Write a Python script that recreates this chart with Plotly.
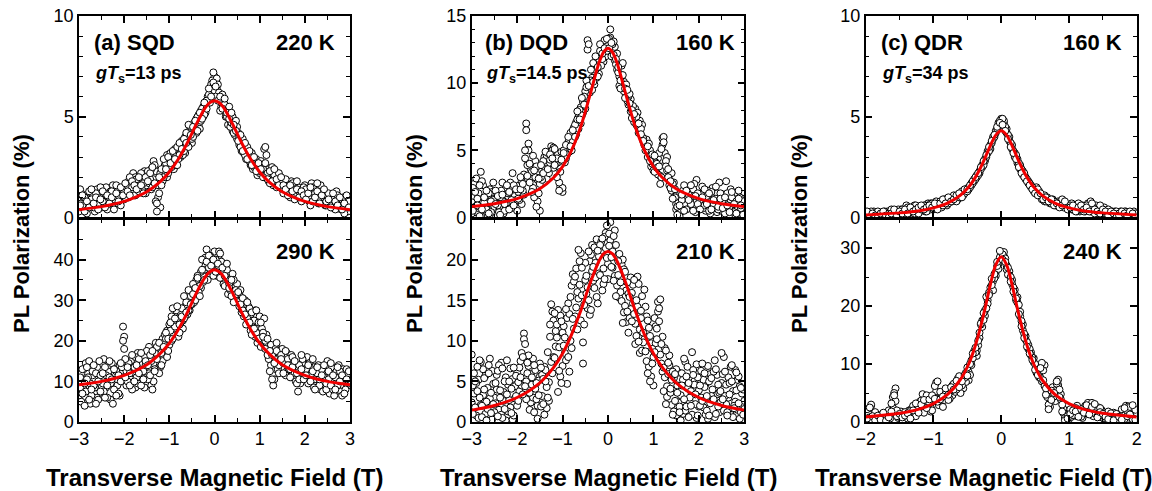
import plotly.graph_objects as go

# ---------------- data ----------------
FIELD_3T = [-3.00, -2.95, -2.90, -2.85, -2.80, -2.75, -2.70, -2.65, -2.60, -2.55, -2.50,
            -2.45, -2.40, -2.35, -2.30, -2.25, -2.20, -2.15, -2.10, -2.05, -2.00,
            -1.95, -1.90, -1.85, -1.80, -1.75, -1.70, -1.65, -1.60, -1.55, -1.50,
            -1.45, -1.40, -1.35, -1.30, -1.25, -1.20, -1.15, -1.10, -1.05, -1.00,
            -0.95, -0.90, -0.85, -0.80, -0.75, -0.70, -0.65, -0.60, -0.55, -0.50,
            -0.45, -0.40, -0.35, -0.30, -0.25, -0.20, -0.15, -0.10, -0.05, 0.00,
            0.05, 0.10, 0.15, 0.20, 0.25, 0.30, 0.35, 0.40, 0.45, 0.50,
            0.55, 0.60, 0.65, 0.70, 0.75, 0.80, 0.85, 0.90, 0.95, 1.00,
            1.05, 1.10, 1.15, 1.20, 1.25, 1.30, 1.35, 1.40, 1.45, 1.50,
            1.55, 1.60, 1.65, 1.70, 1.75, 1.80, 1.85, 1.90, 1.95, 2.00,
            2.05, 2.10, 2.15, 2.20, 2.25, 2.30, 2.35, 2.40, 2.45, 2.50,
            2.55, 2.60, 2.65, 2.70, 2.75, 2.80, 2.85, 2.90, 2.95, 3.00]
FIELD_3T_MID = [-2.975, -2.925, -2.875, -2.825, -2.775, -2.725, -2.675, -2.625, -2.575, -2.525,
                -2.475, -2.425, -2.375, -2.325, -2.275, -2.225, -2.175, -2.125, -2.075, -2.025,
                -1.975, -1.925, -1.875, -1.825, -1.775, -1.725, -1.675, -1.625, -1.575, -1.525,
                -1.475, -1.425, -1.375, -1.325, -1.275, -1.225, -1.175, -1.125, -1.075, -1.025,
                -0.975, -0.925, -0.875, -0.825, -0.775, -0.725, -0.675, -0.625, -0.575, -0.525,
                -0.475, -0.425, -0.375, -0.325, -0.275, -0.225, -0.175, -0.125, -0.075, -0.025,
                0.025, 0.075, 0.125, 0.175, 0.225, 0.275, 0.325, 0.375, 0.425, 0.475,
                0.525, 0.575, 0.625, 0.675, 0.725, 0.775, 0.825, 0.875, 0.925, 0.975,
                1.025, 1.075, 1.125, 1.175, 1.225, 1.275, 1.325, 1.375, 1.425, 1.475,
                1.525, 1.575, 1.625, 1.675, 1.725, 1.775, 1.825, 1.875, 1.925, 1.975,
                2.025, 2.075, 2.125, 2.175, 2.225, 2.275, 2.325, 2.375, 2.425, 2.475,
                2.525, 2.575, 2.625, 2.675, 2.725, 2.775, 2.825, 2.875, 2.925, 2.975]

FIELD_2T = [-2.00,
            -1.96, -1.92, -1.88, -1.84, -1.80, -1.76, -1.72, -1.68, -1.64, -1.60,
            -1.56, -1.52, -1.48, -1.44, -1.40, -1.36, -1.32, -1.28, -1.24, -1.20,
            -1.16, -1.12, -1.08, -1.04, -1.00, -0.96, -0.92, -0.88, -0.84, -0.80,
            -0.76, -0.72, -0.68, -0.64, -0.60, -0.56, -0.52, -0.48, -0.44, -0.40,
            -0.36, -0.32, -0.28, -0.24, -0.20, -0.16, -0.12, -0.08, -0.04, 0.00,
            0.04, 0.08, 0.12, 0.16, 0.20, 0.24, 0.28, 0.32, 0.36, 0.40,
            0.44, 0.48, 0.52, 0.56, 0.60, 0.64, 0.68, 0.72, 0.76, 0.80,
            0.84, 0.88, 0.92, 0.96, 1.00, 1.04, 1.08, 1.12, 1.16, 1.20,
            1.24, 1.28, 1.32, 1.36, 1.40, 1.44, 1.48, 1.52, 1.56, 1.60,
            1.64, 1.68, 1.72, 1.76, 1.80, 1.84, 1.88, 1.92, 1.96, 2.00]
FIELD_2T_MID = [-1.98, -1.94, -1.90, -1.86, -1.82, -1.78, -1.74, -1.70, -1.66, -1.62,
                -1.58, -1.54, -1.50, -1.46, -1.42, -1.38, -1.34, -1.30, -1.26, -1.22,
                -1.18, -1.14, -1.10, -1.06, -1.02, -0.98, -0.94, -0.90, -0.86, -0.82,
                -0.78, -0.74, -0.70, -0.66, -0.62, -0.58, -0.54, -0.50, -0.46, -0.42,
                -0.38, -0.34, -0.30, -0.26, -0.22, -0.18, -0.14, -0.10, -0.06, -0.02,
                0.02, 0.06, 0.10, 0.14, 0.18, 0.22, 0.26, 0.30, 0.34, 0.38,
                0.42, 0.46, 0.50, 0.54, 0.58, 0.62, 0.66, 0.70, 0.74, 0.78,
                0.82, 0.86, 0.90, 0.94, 0.98, 1.02, 1.06, 1.10, 1.14, 1.18,
                1.22, 1.26, 1.30, 1.34, 1.38, 1.42, 1.46, 1.50, 1.54, 1.58,
                1.62, 1.66, 1.70, 1.74, 1.78, 1.82, 1.86, 1.90, 1.94, 1.98]

# (a) SQD 220 K, four sweeps
sqd220_s1 = [0.9, 1.2, 0.5, 1.1, 0.8, 1.3, 0.6, 1.0, 1.4, 0.7, 1.1,
             0.9, 1.5, 1.2, 0.8, 1.6, 1.1, 0.7, 1.3, 1.0, 1.5,
             1.2, 1.8, 1.4, 2.2, 1.1, 1.6, 1.3, 1.9, 1.5, 1.7,
             2.0, 1.4, 2.8, 2.3, 1.0, 0.5, 2.1, 2.6, 3.1, 2.5,
             2.9, 2.4, 2.7, 3.3, 3.0, 3.6, 3.2, 3.9, 4.1, 3.7,
             4.4, 4.9, 4.6, 5.3, 5.0, 5.6, 5.9, 6.2, 6.5, 7.0,
             6.4, 5.9, 5.5, 5.3, 5.0, 4.6, 4.8, 4.3, 4.4, 3.9,
             3.6, 3.8, 3.2, 3.4, 2.9, 2.6, 3.0, 2.4, 2.1, 2.5,
             2.2, 3.4, 2.0, 1.8, 2.3, 1.6, 2.0, 1.7, 1.5, 1.9,
             1.4, 1.6, 1.2, 1.8, 1.3, 1.1, 1.5, 1.0, 1.4, 1.2,
             0.9, 1.3, 1.7, 1.0, 0.8, 1.2, 1.6, 0.7, 1.1, 0.9,
             0.6, 1.0, 0.8, 1.3, 0.5, 0.9, 0.7, 0.4, 0.8, 0.5]
sqd220_s2 = [0.3, 0.7, 1.0, 0.4, 0.9, 0.6, 1.2, 0.3, 0.8, 1.0, 0.5,
             1.1, 0.6, 0.9, 1.3, 0.7, 1.0, 1.4, 0.8, 1.2, 0.9,
             1.5, 1.0, 1.7, 1.3, 2.0, 1.2, 1.8, 1.4, 2.3, 1.6,
             1.7, 2.4, 1.9, 0.8, 1.6, 2.2, 1.8, 2.3, 2.0, 2.8,
             2.5, 3.1, 2.6, 2.9, 3.4, 3.1, 4.0, 3.6, 4.3, 3.9,
             4.7, 4.2, 5.1, 4.8, 5.5, 5.2, 6.0, 5.7, 6.8, 6.3,
             6.9, 6.2, 5.7, 5.8, 5.2, 5.4, 4.5, 5.0, 4.1, 4.5,
             4.0, 3.3, 3.6, 2.9, 3.2, 2.7, 2.4, 2.8, 2.6, 2.2,
             2.6, 2.1, 3.1, 2.4, 1.9, 2.2, 1.8, 2.1, 1.6, 1.4,
             1.8, 1.3, 1.5, 1.1, 1.6, 1.4, 1.0, 1.3, 0.9, 1.6,
             1.2, 0.8, 1.0, 1.4, 1.1, 0.7, 0.9, 1.2, 0.6, 1.0,
             0.8, 0.5, 1.1, 0.7, 0.9, 0.4, 1.0, 0.6, 0.3, 0.7]
sqd220_s3 = [1.4, 0.6, 1.0, 0.2, 1.3, 0.9, 0.5, 1.2, 0.7, 1.5,
             0.8, 1.2, 0.4, 1.0, 1.3, 0.9, 1.6, 1.1, 0.6, 1.4,
             1.0, 1.6, 2.0, 1.5, 1.1, 1.9, 1.3, 2.2, 1.7, 1.2,
             2.3, 1.9, 1.5, 2.6, 0.3, 1.2, 2.4, 2.0, 2.7, 2.2,
             3.2, 2.8, 3.4, 2.6, 3.1, 3.8, 3.3, 4.2, 3.5, 4.5,
             4.0, 4.5, 5.0, 4.4, 5.4, 5.1, 5.8, 6.1, 6.6, 7.2,
             6.0, 6.6, 5.3, 6.1, 5.6, 5.0, 5.5, 4.7, 4.2, 4.8,
             4.2, 3.5, 3.9, 3.1, 3.5, 2.8, 3.2, 2.5, 2.9, 2.3,
             2.8, 2.4, 3.5, 2.2, 1.7, 2.5, 2.1, 1.5, 2.2, 1.7,
             1.2, 1.9, 1.5, 1.0, 1.7, 1.2, 1.8, 1.3, 0.8, 1.5,
             1.4, 1.0, 0.6, 1.5, 1.2, 1.7, 0.9, 1.3, 1.0, 0.6,
             1.2, 0.7, 0.9, 0.4, 1.1, 0.6, 0.9, 0.2, 0.6, 0.8]
sqd220_s4 = [0.6, 1.1, 0.3, 0.8, 0.5, 1.4, 0.7, 1.0, 0.4, 0.9,
             1.3, 0.5, 1.1, 0.7, 1.0, 0.4, 1.2, 0.8, 1.5, 1.1,
             1.7, 1.3, 1.1, 1.8, 1.6, 1.4, 2.0, 1.6, 1.2, 2.0,
             1.8, 2.2, 2.5, 1.7, 0.7, 2.0, 1.6, 2.9, 2.4, 3.0,
             2.7, 3.3, 2.9, 3.5, 3.7, 3.4, 3.9, 3.7, 4.6, 4.1,
             4.5, 4.8, 4.3, 5.2, 4.9, 5.7, 5.4, 6.4, 6.0, 6.7,
             6.5, 5.8, 6.0, 5.4, 5.9, 5.2, 4.9, 5.2, 4.6, 4.3,
             3.8, 4.1, 3.3, 3.7, 2.9, 3.3, 2.6, 3.0, 2.3, 2.7,
             2.4, 2.0, 2.7, 1.9, 2.3, 1.8, 2.4, 1.9, 1.6, 2.0,
             1.6, 1.4, 1.1, 1.6, 1.3, 0.9, 1.4, 1.0, 1.3, 1.1,
             0.9, 1.2, 1.5, 0.8, 1.0, 1.3, 0.7, 1.1, 1.4, 0.8,
             0.9, 0.5, 1.2, 0.8, 0.6, 1.0, 0.4, 0.7, 1.1, 0.5]

# (a) SQD 290 K
sqd290_s1 = [6.5, 12.0, 8.0, 14.5, 5.0, 9.5, 11.5, 7.0, 13.5, 6.0, 10.5,
             15.5, 8.5, 12.5, 5.5, 10.0, 13.0, 9.0, 14.0, 11.0, 21.0,
             12.5, 9.5, 15.0, 11.5, 8.5, 17.0, 13.0, 10.5, 16.0, 12.0,
             18.5, 9.0, 14.5, 19.5, 16.5, 13.5, 20.5, 17.5, 22.5, 19.0,
             26.0, 21.5, 24.0, 22.0, 27.0, 25.0, 28.5, 26.5, 30.5, 29.0,
             32.0, 31.0, 34.5, 33.0, 36.0, 40.5, 38.0, 36.5, 39.5, 42.0,
             38.5, 40.0, 36.5, 37.0, 34.0, 31.5, 35.5, 33.0, 32.0, 30.0,
             28.5, 30.5, 26.0, 27.5, 25.0, 22.5, 24.5, 21.0, 19.5, 26.0,
             20.5, 18.5, 21.5, 17.0, 14.0, 9.0, 15.5, 18.0, 16.5, 14.5,
             13.0, 17.0, 15.0, 12.0, 11.0, 14.0, 7.5, 12.5, 14.5, 11.5,
             16.0, 12.0, 10.0, 13.5, 9.0, 11.0, 8.0, 12.5, 10.5, 9.5,
             7.0, 13.5, 11.5, 9.5, 14.0, 8.5, 10.5, 12.0, 9.0, 11.0]
sqd290_s2 = [10.0, 5.0, 13.0, 7.5, 11.0, 4.5, 12.5, 8.5, 6.0, 15.0, 9.0,
             7.5, 11.5, 14.0, 9.5, 4.5, 12.0, 10.5, 6.5, 13.5, 18.0,
             9.0, 14.5, 10.5, 13.5, 16.0, 9.5, 11.0, 14.5, 8.5, 17.5,
             12.0, 15.0, 10.0, 17.0, 12.5, 18.0, 15.0, 21.5, 16.0, 24.0,
             20.0, 23.0, 27.5, 21.0, 24.5, 23.0, 26.0, 30.0, 27.5, 32.0,
             29.5, 35.0, 32.0, 37.0, 34.5, 38.5, 35.0, 41.0, 37.0, 39.0,
             36.0, 42.0, 39.5, 34.0, 38.5, 35.0, 32.5, 36.5, 30.5, 34.0,
             31.5, 27.0, 29.0, 24.0, 28.5, 26.5, 23.0, 27.5, 23.5, 21.5,
             23.0, 25.5, 19.5, 15.5, 19.0, 11.5, 18.0, 13.0, 15.0, 18.0,
             16.0, 12.5, 13.0, 16.5, 14.0, 10.0, 13.5, 9.5, 15.5, 13.0,
             10.5, 14.5, 13.0, 8.5, 12.5, 14.0, 10.0, 7.5, 12.0, 15.0,
             12.0, 8.5, 6.5, 12.5, 10.5, 7.5, 13.0, 8.0, 12.0, 10.0]
sqd290_s3 = [8.5, 13.0, 4.0, 10.5, 15.0, 6.5, 9.0, 12.0, 5.5, 11.5,
             9.5, 13.5, 6.0, 11.0, 14.5, 8.0, 12.5, 7.0, 10.0, 23.5,
             15.5, 10.0, 12.0, 8.0, 13.5, 11.0, 15.5, 9.0, 12.5, 14.0,
             10.5, 16.5, 8.0, 13.0, 18.5, 12.0, 17.0, 19.5, 20.5, 17.5,
             22.5, 28.0, 23.5, 25.5, 22.0, 28.0, 25.5, 29.5, 27.5, 31.0,
             34.0, 30.0, 36.0, 33.5, 40.0, 37.5, 42.5, 38.0, 40.5, 36.0,
             40.0, 37.5, 41.5, 35.5, 33.5, 37.5, 34.0, 31.0, 35.0, 32.5,
             29.5, 32.5, 27.5, 30.0, 25.5, 28.0, 21.5, 25.0, 22.0, 24.5,
             18.5, 22.0, 20.0, 16.5, 12.5, 16.5, 10.5, 17.5, 14.0, 16.5,
             14.5, 11.5, 15.5, 13.0, 16.0, 12.0, 9.5, 14.0, 16.5, 12.0,
             13.0, 9.5, 11.5, 15.5, 10.5, 12.0, 9.0, 13.0, 11.0, 8.0,
             10.5, 14.5, 8.0, 11.0, 9.0, 12.5, 6.5, 10.0, 13.0, 9.5]
sqd290_s4 = [11.0, 7.0, 9.5, 13.5, 5.5, 8.0, 14.0, 4.5, 10.0, 7.5,
             12.0, 6.0, 9.0, 15.0, 10.5, 13.0, 6.5, 11.5, 14.5, 20.0,
             11.0, 13.5, 9.0, 16.5, 10.0, 14.0, 12.0, 17.0, 10.5, 15.0,
             14.0, 11.5, 17.5, 12.5, 15.5, 19.5, 14.0, 18.5, 22.0, 20.5,
             24.5, 20.5, 25.5, 28.5, 24.0, 26.0, 31.0, 27.0, 32.5, 29.0,
             31.5, 33.0, 35.5, 31.0, 37.5, 35.0, 39.5, 41.0, 38.5, 40.0,
             37.0, 39.0, 35.5, 38.0, 36.0, 39.0, 33.0, 35.0, 29.5, 31.5,
             32.0, 29.0, 30.5, 26.5, 29.5, 24.5, 27.0, 23.0, 27.5, 20.5,
             24.5, 21.0, 18.0, 20.5, 17.5, 10.5, 14.5, 19.5, 12.0, 15.5,
             12.0, 17.5, 14.0, 11.0, 13.5, 15.0, 12.0, 10.5, 13.0, 10.5,
             11.5, 14.0, 10.0, 12.5, 8.0, 13.5, 10.5, 11.5, 14.0, 9.5,
             12.5, 9.0, 11.5, 8.0, 13.5, 10.0, 11.5, 7.0, 10.5, 12.5]

# (b) DQD 160 K
dqd160_s1 = [1.2, 2.5, 0.4, 1.8, 3.4, 0.9, 1.5, 0.2, 2.1, 1.0, 1.7,
             0.6, 1.9, 1.3, 0.3, 2.2, 1.4, 0.8, 3.3, 1.1, 1.8,
             2.4, 1.0, 1.7, 7.0, 5.5, 3.6, 2.2, 4.2, 2.8, 0.5,
             3.5, 4.5, 2.9, 4.0, 5.3, 3.7, 4.8, 4.1, 2.3, 1.9,
             4.6, 5.2, 4.9, 5.8, 6.7, 6.2, 7.5, 7.0, 8.6, 8.1,
             13.2, 9.3, 10.4, 9.9, 11.2, 10.7, 12.1, 11.6, 12.8, 13.1,
             14.0, 12.3, 12.7, 11.0, 9.8, 10.6, 10.1, 9.2, 8.4, 8.8,
             7.6, 8.1, 6.8, 7.2, 6.0, 5.4, 5.8, 4.9, 3.8, 4.3,
             3.6, 4.4, 3.1, 5.9, 4.8, 3.5, 2.8, 3.3, 1.9, 0.6,
             0.3, 1.5, 0.9, 1.9, 1.2, 2.3, 1.6, 0.8, 2.8, 1.4,
             1.0, 1.9, 0.5, 1.3, 0.8, 2.2, 1.6, 0.4, 1.2, 0.9,
             1.7, 2.7, 0.6, 1.3, 0.9, 0.2, 1.8, 1.1, 0.5, 1.4]
dqd160_s2 = [0.3, 1.6, 2.9, 0.7, 1.3, 2.4, 0.5, 1.1, 0.2, 1.9, 0.8,
             1.5, 0.4, 2.0, 1.2, 0.7, 1.8, 2.6, 0.9, 1.6, 0.5,
             1.3, 2.7, 3.2, 6.5, 5.0, 2.9, 4.6, 3.0, 1.2, 2.5,
             2.8, 3.8, 4.6, 3.3, 4.4, 5.2, 4.0, 4.7, 3.4, 2.2,
             4.1, 4.7, 5.5, 5.0, 6.0, 7.1, 6.6, 8.2, 7.8, 9.4,
             12.5, 10.0, 9.5, 10.9, 10.4, 11.8, 11.3, 12.5, 12.0, 12.9,
             13.4, 12.9, 11.7, 12.2, 10.5, 11.3, 9.4, 9.9, 9.0, 7.9,
             8.3, 7.4, 7.8, 6.5, 6.9, 5.6, 5.1, 5.5, 4.6, 3.5,
             4.1, 3.2, 2.5, 5.4, 3.9, 4.5, 2.4, 2.0, 2.6, 1.0,
             1.1, 0.4, 2.0, 1.0, 1.5, 0.7, 1.9, 2.5, 1.2, 0.6,
             1.7, 0.7, 1.4, 2.0, 0.3, 1.1, 0.7, 1.8, 2.6, 0.5,
             0.9, 0.4, 1.6, 2.1, 0.5, 1.2, 0.8, 1.5, 0.3, 1.0]
dqd160_s3 = [2.2, 0.8, 1.4, 0.1, 2.7, 1.1, 0.6, 1.8, 0.4, 1.3,
             2.0, 0.9, 1.5, 2.6, 0.5, 1.1, 1.9, 0.7, 2.4, 1.3,
             1.9, 3.0, 2.0, 5.0, 3.9, 2.6, 3.4, 1.5, 3.8, 1.8,
             3.0, 4.2, 3.6, 4.8, 4.3, 5.0, 3.9, 4.4, 2.6, 4.9,
             5.0, 4.4, 5.6, 6.3, 5.7, 6.9, 7.3, 8.0, 7.6, 9.0,
             9.7, 12.9, 10.2, 11.5, 11.0, 10.5, 12.4, 11.8, 13.2, 12.4,
             13.3, 12.0, 13.1, 11.4, 10.8, 9.6, 11.5, 9.6, 8.7, 9.2,
             8.0, 7.1, 7.5, 6.3, 6.6, 5.9, 5.3, 4.5, 5.0, 4.0,
             3.4, 4.0, 4.8, 3.0, 6.0, 4.2, 3.0, 2.2, 2.5, 1.5,
             0.8, 0.1, 1.3, 2.4, 0.6, 1.7, 1.0, 2.1, 0.4, 1.8,
             1.3, 2.3, 0.9, 1.6, 0.5, 1.9, 1.0, 1.4, 0.6, 1.8,
             1.1, 0.3, 1.8, 0.8, 1.5, 0.4, 1.2, 2.0, 0.7, 1.2]
dqd160_s4 = [0.5, 1.9, 0.9, 2.4, 0.6, 1.5, 2.0, 0.3, 1.2, 2.6,
             1.0, 1.6, 0.2, 1.7, 1.0, 2.4, 0.6, 1.3, 0.9, 2.1,
             1.4, 2.1, 2.5, 4.4, 3.1, 4.0, 1.9, 3.5, 0.8, 2.9,
             3.9, 3.3, 4.9, 3.6, 4.7, 4.4, 5.1, 3.0, 2.0, 4.3,
             4.8, 5.4, 6.0, 5.3, 6.5, 6.0, 7.9, 7.3, 8.9, 8.4,
             10.2, 9.8, 11.0, 10.1, 12.0, 11.2, 12.9, 12.2, 12.6, 13.3,
             12.6, 13.0, 12.1, 11.8, 11.2, 10.2, 10.6, 8.9, 9.5, 8.5,
             7.4, 7.7, 6.9, 7.0, 6.2, 5.7, 5.0, 5.3, 4.2, 4.7,
             4.6, 3.7, 3.8, 5.1, 5.6, 3.8, 3.6, 2.7, 1.4, 2.1,
             0.2, 0.9, 1.7, 0.5, 2.0, 1.3, 2.4, 0.5, 1.6, 1.0,
             0.6, 1.5, 2.1, 1.0, 1.8, 0.6, 1.3, 2.3, 0.8, 1.4,
             0.7, 1.5, 0.9, 0.4, 1.9, 1.0, 0.3, 1.4, 0.9, 0.2]

# (b) DQD 210 K
dqd210_s1 = [8.3, 3.5, 0.8, 5.2, 2.1, 6.5, 1.0, 4.2, 7.8, 0.3, 3.0,
             5.8, 1.5, 7.3, 2.6, 0.2, 4.6, 1.8, 5.3, 2.9, 6.1,
             3.8, 8.5, 10.9, 5.0, 6.9, 2.4, 7.8, 4.1, 0.4, 5.6,
             3.2, 6.8, 1.7, 4.9, 7.4, 12.5, 9.3, 13.8, 5.6, 11.0,
             8.5, 12.8, 6.2, 16.8, 11.5, 18.9, 15.2, 20.8, 9.8, 17.5,
             14.0, 19.8, 21.8, 16.5, 22.5, 18.3, 20.9, 17.0, 23.3, 19.5,
             24.6, 21.0, 18.0, 20.2, 15.3, 19.4, 13.5, 16.2, 11.0, 17.8,
             14.6, 12.1, 17.9, 8.5, 15.5, 10.2, 13.0, 6.8, 9.7, 4.5,
             11.8, 14.8, 8.3, 6.2, 9.1, 4.4, 7.0, 2.1, 5.4, 0.8,
             6.1, 3.3, 1.0, 7.4, 4.2, 2.5, 8.6, 5.0, 0.5, 3.9,
             6.3, 1.8, 4.7, 0.4, 5.9, 2.7, 7.6, 3.4, 1.2, 4.8,
             8.0, 2.2, 5.5, 0.9, 3.8, 6.4, 1.5, 4.4, 0.3, 2.6]
dqd210_s2 = [2.4, 6.0, 4.8, 0.5, 7.4, 3.3, 5.7, 1.6, 2.9, 6.3, 1.2,
             4.0, 7.0, 0.9, 3.7, 5.5, 1.3, 6.6, 0.3, 4.4, 2.0,
             6.7, 4.5, 10.2, 2.8, 8.2, 5.9, 3.0, 6.4, 2.0, 7.2,
             5.8, 0.9, 4.3, 2.6, 14.5, 8.0, 11.2, 3.7, 13.1, 6.9,
             10.4, 4.7, 13.3, 9.1, 17.3, 14.1, 21.2, 12.5, 7.2, 19.6,
             16.6, 13.2, 18.6, 21.5, 15.4, 20.4, 22.2, 18.9, 21.4, 17.6,
             22.4, 19.0, 23.6, 16.8, 20.7, 14.9, 18.8, 12.3, 15.8, 13.9,
             16.9, 9.6, 14.2, 11.4, 8.8, 16.3, 7.5, 11.6, 5.6, 8.0,
             9.7, 13.6, 15.1, 10.5, 5.5, 3.1, 8.2, 5.2, 1.3, 6.5,
             2.4, 0.2, 5.2, 1.4, 6.8, 3.0, 0.9, 4.6, 7.1, 1.9,
             3.0, 5.2, 0.9, 6.9, 2.3, 4.0, 0.6, 5.8, 3.6, 8.5,
             1.4, 4.6, 3.0, 6.8, 0.6, 2.5, 5.2, 0.4, 3.5, 1.6]
dqd210_s3 = [4.5, 1.8, 6.8, 3.0, 0.6, 5.4, 2.5, 7.0, 1.1, 4.7,
             2.3, 6.3, 3.9, 0.5, 5.0, 7.6, 2.7, 4.1, 0.8, 5.7,
             4.9, 7.5, 3.4, 9.6, 6.0, 1.5, 4.6, 7.0, 2.8, 5.1,
             1.9, 5.3, 6.4, 3.0, 10.5, 13.6, 7.9, 12.0, 9.2, 4.8,
             11.8, 7.6, 14.6, 10.0, 18.2, 13.0, 16.0, 19.8, 15.6, 12.0,
             18.0, 15.0, 20.6, 17.4, 19.6, 14.6, 21.8, 16.2, 22.8, 20.2,
             23.2, 20.3, 17.4, 21.8, 18.1, 16.0, 20.0, 14.3, 17.2, 12.8,
             15.9, 13.3, 10.6, 17.0, 12.8, 9.8, 14.2, 6.0, 10.6, 7.2,
             12.8, 10.2, 14.0, 7.2, 3.8, 8.8, 5.9, 3.6, 6.2, 2.6,
             4.5, 1.9, 6.0, 2.8, 5.6, 0.6, 3.8, 6.4, 2.2, 5.5,
             2.0, 7.2, 4.3, 1.4, 5.0, 3.2, 6.2, 1.0, 4.6, 2.4,
             5.9, 3.2, 1.2, 4.8, 7.0, 2.0, 3.9, 5.6, 1.2, 4.0]
dqd210_s4 = [1.0, 5.0, 3.8, 7.6, 2.0, 4.0, 0.2, 6.0, 3.6, 2.2,
             4.8, 0.7, 3.0, 6.6, 1.6, 3.4, 5.0, 1.1, 6.7, 3.2,
             2.6, 5.5, 8.0, 4.4, 7.3, 3.6, 5.5, 1.2, 4.8, 3.3,
             6.7, 2.2, 5.0, 8.6, 12.0, 6.0, 13.4, 10.4, 6.3, 12.4,
             9.4, 13.9, 8.0, 15.4, 12.7, 17.9, 11.4, 16.9, 19.0, 14.4,
             15.8, 21.0, 13.8, 19.1, 17.8, 21.1, 18.1, 22.6, 17.6, 24.2,
             21.7, 19.1, 22.9, 15.5, 19.8, 17.2, 12.2, 18.5, 13.6, 15.4,
             12.4, 17.5, 15.0, 9.9, 13.7, 11.0, 8.7, 12.5, 5.0, 9.0,
             8.6, 11.5, 12.4, 9.6, 6.7, 2.2, 7.3, 4.1, 0.9, 5.9,
             3.6, 1.2, 4.5, 7.8, 1.9, 4.8, 2.0, 5.8, 3.4, 0.8,
             4.5, 2.6, 6.0, 3.2, 0.8, 5.4, 2.8, 6.5, 1.9, 3.8,
             2.8, 6.2, 0.8, 3.4, 5.0, 1.7, 6.1, 2.3, 4.2, 0.9]

# (c) QDR 160 K
qdr160_s1 = [0.1,
             0.2, 0.0, 0.3, 0.1, 0.2, 0.0, 0.1, 0.3, 0.2, 0.1,
             0.3, 0.2, 0.4, 0.1, 0.3, 0.5, 0.2, 0.6, 0.3, 0.4,
             0.5, 0.3, 0.7, 0.4, 0.6, 0.8, 0.5, 0.7, 0.9, 0.6,
             0.9, 0.8, 1.0, 0.9, 1.1, 1.2, 1.3, 1.4, 1.6, 1.8,
             2.0, 2.2, 2.5, 2.8, 3.2, 3.4, 3.9, 4.2, 4.6, 4.9,
             4.7, 4.4, 4.0, 3.6, 3.2, 2.9, 2.6, 2.3, 2.0, 1.8,
             1.6, 1.4, 1.5, 1.2, 1.0, 1.1, 0.9, 0.8, 0.9, 0.7,
             0.8, 0.6, 0.7, 0.5, 0.6, 0.4, 0.5, 0.6, 0.3, 0.4,
             0.5, 0.7, 0.3, 0.4, 0.6, 0.2, 0.3, 0.4, 0.2, 0.3,
             0.1, 0.3, 0.2, 0.0, 0.2, 0.3, 0.1, 0.2, 0.0, 0.1]
qdr160_s2 = [0.2,
             0.0, 0.3, 0.1, 0.0, 0.2, 0.1, 0.3, 0.0, 0.1, 0.3,
             0.1, 0.4, 0.2, 0.3, 0.6, 0.3, 0.4, 0.2, 0.5, 0.3,
             0.4, 0.6, 0.5, 0.7, 0.4, 0.6, 0.7, 0.5, 0.8, 0.7,
             0.8, 1.0, 0.9, 1.0, 1.2, 1.1, 1.4, 1.5, 1.7, 1.9,
             2.1, 2.3, 2.6, 2.9, 3.3, 3.6, 4.0, 4.3, 4.7, 4.6,
             4.8, 4.2, 3.8, 3.4, 3.0, 2.7, 2.4, 2.1, 1.9, 1.7,
             1.5, 1.3, 1.2, 1.3, 0.9, 0.8, 1.0, 0.7, 0.8, 0.6,
             0.7, 0.8, 0.5, 0.6, 0.4, 0.7, 0.4, 0.3, 0.5, 0.6,
             0.3, 0.4, 0.8, 0.5, 0.3, 0.4, 0.2, 0.5, 0.3, 0.2,
             0.3, 0.2, 0.1, 0.3, 0.1, 0.0, 0.2, 0.1, 0.3, 0.2]
qdr160_s3 = [0.1, 0.2, 0.0, 0.2, 0.3, 0.1, 0.2, 0.0, 0.2, 0.4,
             0.2, 0.3, 0.1, 0.4, 0.2, 0.5, 0.3, 0.4, 0.6, 0.2,
             0.4, 0.6, 0.3, 0.5, 0.7, 0.5, 0.6, 0.8, 0.6, 0.8,
             0.7, 0.9, 1.1, 0.8, 1.0, 1.3, 1.2, 1.3, 1.5, 1.7,
             1.9, 2.1, 2.4, 2.6, 3.0, 3.3, 3.7, 4.0, 4.4, 4.8,
             4.9, 4.5, 4.1, 3.7, 3.3, 3.1, 2.7, 2.4, 2.2, 1.9,
             1.7, 1.5, 1.3, 1.4, 1.1, 1.0, 0.8, 0.9, 0.7, 0.8,
             0.6, 0.7, 0.9, 0.6, 0.5, 0.6, 0.4, 0.5, 0.7, 0.4,
             0.3, 0.6, 0.4, 0.5, 0.2, 0.4, 0.6, 0.3, 0.2, 0.4,
             0.2, 0.1, 0.3, 0.2, 0.1, 0.3, 0.0, 0.2, 0.1, 0.2]
qdr160_s4 = [0.3, 0.0, 0.2, 0.1, 0.0, 0.2, 0.3, 0.1, 0.0, 0.2,
             0.4, 0.1, 0.3, 0.2, 0.4, 0.2, 0.5, 0.3, 0.4, 0.5,
             0.6, 0.4, 0.5, 0.6, 0.5, 0.7, 0.4, 0.7, 0.9, 0.7,
             1.0, 0.8, 0.9, 1.1, 1.2, 1.0, 1.4, 1.4, 1.6, 1.8,
             2.0, 2.2, 2.5, 2.8, 3.1, 3.5, 3.8, 4.1, 4.5, 4.7,
             4.6, 4.3, 3.9, 3.5, 3.2, 2.9, 2.5, 2.2, 2.0, 1.8,
             1.6, 1.4, 1.2, 1.1, 1.2, 0.9, 1.0, 0.8, 0.9, 0.6,
             0.7, 0.5, 0.6, 0.8, 0.4, 0.5, 0.6, 0.3, 0.5, 0.6,
             0.4, 0.5, 0.3, 0.7, 0.4, 0.3, 0.2, 0.4, 0.3, 0.1,
             0.3, 0.2, 0.0, 0.1, 0.3, 0.2, 0.1, 0.3, 0.2, 0.0]

# (c) QDR 240 K
qdr240_s1 = [1.0,
             0.5, 2.8, 1.5, 0.3, 0.8, 0.2, 1.0, 0.4, 1.3, 4.3,
             5.8, 1.2, 0.5, 1.6, 0.9, 2.0, 1.3, 2.6, 1.8, 3.5,
             2.2, 4.2, 3.0, 2.5, 3.6, 6.8, 4.0, 3.4, 4.7, 4.2,
             5.0, 4.6, 5.9, 7.5, 6.6, 5.8, 8.5, 7.2, 9.8, 11.5,
             12.3, 14.5, 17.5, 19.2, 21.0, 22.6, 24.3, 25.8, 27.3, 29.2,
             28.6, 27.0, 26.0, 24.5, 22.8, 21.5, 19.0, 16.8, 14.8, 13.3,
             12.0, 11.0, 9.2, 8.3, 7.0, 9.8, 5.2, 3.4, 6.0, 3.6,
             7.3, 4.8, 2.2, 1.2, 0.5, 1.8, 2.4, 1.0, 2.0, 1.6,
             2.8, 1.4, 3.2, 2.0, 1.1, 2.5, 0.8, 1.6, 0.5, 1.2,
             0.4, 1.0, 0.2, 1.5, 0.7, 2.8, 0.3, 1.1, 2.3, 0.6]
qdr240_s2 = [0.2,
             1.4, 3.0, 0.6, 1.1, 0.2, 0.7, 0.3, 1.5, 0.6, 2.5,
             3.6, 0.7, 1.8, 0.4, 1.3, 1.0, 2.3, 1.5, 3.0, 2.2,
             4.8, 2.7, 3.4, 1.8, 4.3, 5.3, 2.9, 4.7, 3.8, 5.5,
             4.0, 6.3, 5.2, 6.8, 5.0, 7.7, 6.9, 8.6, 10.6, 12.2,
             11.4, 15.4, 16.4, 18.3, 20.4, 23.2, 22.7, 25.2, 26.4, 28.0,
             29.3, 26.3, 25.3, 23.8, 22.1, 20.6, 18.2, 15.8, 14.2, 12.6,
             11.5, 10.3, 8.5, 7.7, 10.2, 6.2, 4.3, 2.6, 4.8, 5.5,
             6.4, 3.9, 1.5, 0.4, 1.4, 0.9, 1.6, 2.8, 1.3, 0.7,
             1.9, 3.3, 2.3, 1.0, 1.9, 1.4, 2.1, 0.5, 1.5, 0.9,
             1.3, 0.4, 0.9, 0.5, 1.8, 0.2, 2.7, 0.8, 0.3, 1.6]
qdr240_s3 = [2.2, 0.8, 0.1, 1.7, 0.5, 1.2, 0.3, 0.9, 2.0, 3.2,
             5.0, 2.0, 0.9, 0.2, 1.7, 0.6, 1.9, 2.8, 1.0, 2.4,
             3.7, 1.6, 4.6, 3.2, 2.0, 6.2, 3.5, 5.2, 2.6, 4.9,
             3.8, 5.4, 6.6, 5.6, 7.9, 6.3, 7.6, 9.4, 8.1, 11.0,
             12.0, 13.2, 16.8, 18.8, 19.6, 22.3, 23.6, 24.8, 26.9, 28.4,
             28.9, 28.2, 25.4, 25.0, 23.2, 21.0, 20.2, 17.4, 15.2, 13.8,
             12.6, 11.1, 10.0, 8.9, 7.6, 8.9, 4.7, 3.0, 5.4, 4.4,
             6.6, 5.6, 3.0, 0.7, 1.0, 2.2, 1.2, 2.4, 1.7, 0.9,
             2.4, 1.8, 2.7, 3.3, 1.5, 1.0, 2.4, 1.2, 0.6, 1.8,
             0.8, 1.6, 0.3, 1.2, 2.2, 0.5, 1.9, 2.6, 0.5, 2.1]
qdr240_s4 = [0.6, 2.5, 1.0, 0.3, 1.1, 0.4, 1.6, 0.2, 0.8, 1.8,
             4.6, 1.0, 1.4, 0.8, 1.1, 1.5, 0.6, 2.0, 3.2, 1.6,
             3.0, 3.8, 2.4, 3.9, 4.6, 4.0, 7.0, 3.9, 4.4, 5.8,
             4.7, 6.0, 5.6, 7.1, 6.0, 7.0, 8.1, 8.0, 10.0, 11.8,
             12.8, 14.0, 17.0, 17.6, 21.6, 21.9, 24.7, 25.5, 27.6, 29.5,
             28.0, 27.6, 26.6, 24.2, 22.5, 21.3, 18.6, 16.5, 14.5, 13.0,
             11.8, 10.7, 9.0, 8.1, 9.3, 7.2, 5.8, 2.2, 3.8, 5.0,
             7.0, 4.3, 1.8, 0.3, 0.6, 1.4, 2.0, 1.8, 0.9, 2.2,
             1.6, 2.9, 1.3, 2.6, 3.1, 0.8, 1.7, 1.4, 0.9, 0.5,
             1.5, 0.3, 1.4, 0.9, 0.4, 2.4, 1.0, 1.3, 2.9, 0.4]

# fitted curves (red)
FIT_X_3T = [-3.0, -2.5, -2.0, -1.5, -1.2, -1.0, -0.8, -0.6, -0.4, -0.2, -0.1, 0.0,
            0.1, 0.2, 0.4, 0.6, 0.8, 1.0, 1.2, 1.5, 2.0, 2.5, 3.0]
fit_sqd220 = [0.39, 0.54, 0.80, 1.28, 1.78, 2.26, 2.90, 3.71, 4.64, 5.46, 5.71, 5.80,
              5.71, 5.46, 4.64, 3.71, 2.90, 2.26, 1.78, 1.28, 0.80, 0.54, 0.39]
fit_sqd290 = [9.16, 10.0, 11.5, 14.1, 16.9, 19.4, 22.8, 27.0, 31.8, 35.8, 37.0, 37.5,
              37.0, 35.8, 31.8, 27.0, 22.8, 19.4, 16.9, 14.1, 11.5, 10.0, 9.16]
fit_dqd160 = [0.82, 1.03, 1.41, 2.14, 2.96, 3.79, 5.01, 6.75, 9.07, 11.5, 12.3, 12.6,
              12.3, 11.5, 9.07, 6.75, 5.01, 3.79, 2.96, 2.14, 1.41, 1.03, 0.82]
fit_dqd210 = [1.46, 2.04, 3.02, 4.83, 6.69, 8.44, 10.8, 13.7, 17.0, 19.8, 20.7, 21.0,
              20.7, 19.8, 17.0, 13.7, 10.8, 8.44, 6.69, 4.83, 3.02, 2.04, 1.46]
FIT_X_2T = [-2.0, -1.5, -1.2, -1.0, -0.8, -0.6, -0.48, -0.4, -0.32, -0.24, -0.16, -0.08, 0.0,
            0.08, 0.16, 0.24, 0.32, 0.4, 0.48, 0.6, 0.8, 1.0, 1.2, 1.5, 2.0]
fit_qdr160 = [0.13, 0.23, 0.34, 0.48, 0.70, 1.11, 1.51, 1.89, 2.37, 2.95, 3.57, 4.09, 4.30,
              4.09, 3.57, 2.95, 2.37, 1.89, 1.51, 1.11, 0.70, 0.48, 0.34, 0.23, 0.13]
fit_qdr240 = [0.86, 1.50, 2.27, 3.18, 4.67, 7.36, 10.0, 12.5, 15.7, 19.5, 23.7, 27.1, 28.5,
              27.1, 23.7, 19.5, 15.7, 12.5, 10.0, 7.36, 4.67, 3.18, 2.27, 1.50, 0.86]

PANEL_LABELS = ["(a) SQD", "(b) DQD", "(c) QDR"]
TOP_TEMPS = ["220 K", "160 K", "160 K"]
BOTTOM_TEMPS = ["290 K", "210 K", "240 K"]
GTS = ["13", "14.5", "34"]
Y_TITLE = "PL Polarization (%)"
X_TITLE = "Transverse Magnetic Field (T)"

# ---------------- figure ----------------
W, H = 1152, 491
FONT = "Liberation Sans, Arial, sans-serif"


def px_x(p):
    return p / W


def px_y(p):
    return (H - p) / H


col_px = [(79, 350), (471.7, 744.3), (865.7, 1136.7)]
# top panel bottom edge lifted by one line width so both frame lines coincide
top_dom = [px_y(217.5), px_y(16)]
bot_dom = [px_y(422), px_y(219)]

G3 = [FIELD_3T, FIELD_3T, FIELD_3T_MID, FIELD_3T_MID]
G2 = [FIELD_2T, FIELD_2T, FIELD_2T_MID, FIELD_2T_MID]
panels = [
    (0, "top", G3, [sqd220_s1, sqd220_s2, sqd220_s3, sqd220_s4], FIT_X_3T, fit_sqd220, [0, 10], [0, 5, 10], 1, [-3, 3]),
    (0, "bot", G3, [sqd290_s1, sqd290_s2, sqd290_s3, sqd290_s4], FIT_X_3T, fit_sqd290, [0, 50], [0, 10, 20, 30, 40], 5, [-3, 3]),
    (1, "top", G3, [dqd160_s1, dqd160_s2, dqd160_s3, dqd160_s4], FIT_X_3T, fit_dqd160, [0, 15], [0, 5, 10, 15], 1, [-3, 3]),
    (1, "bot", G3, [dqd210_s1, dqd210_s2, dqd210_s3, dqd210_s4], FIT_X_3T, fit_dqd210, [0, 25], [0, 5, 10, 15, 20], 2.5, [-3, 3]),
    (2, "top", G2, [qdr160_s1, qdr160_s2, qdr160_s3, qdr160_s4], FIT_X_2T, fit_qdr160, [0, 10], [0, 5, 10], 1, [-2, 2]),
    (2, "bot", G2, [qdr240_s1, qdr240_s2, qdr240_s3, qdr240_s4], FIT_X_2T, fit_qdr240, [0, 35], [0, 10, 20, 30], 5, [-2, 2]),
]

fig = go.Figure()
layout = dict(
    width=W, height=H,
    margin=dict(l=0, r=0, t=0, b=0, pad=0),
    paper_bgcolor="white", plot_bgcolor="white",
    showlegend=False,
    font=dict(family=FONT, color="black"),
)

axis_common = dict(
    showline=True, linecolor="black", linewidth=1.5, mirror="ticks",
    ticks="inside", ticklen=7, tickwidth=1.5, tickcolor="black",
    showgrid=False, zeroline=False, automargin=False,
    tickfont=dict(family=FONT, size=18, color="black"),
)

for i, (col, row, grids, sweeps, fx, fy, yr, ytv, ymin, xr) in enumerate(panels):
    n = i + 1
    xa = "x" if n == 1 else f"x{n}"
    ya = "y" if n == 1 else f"y{n}"
    for xg, s in zip(grids, sweeps):
        fig.add_trace(go.Scatter(
            x=xg, y=s, mode="markers", xaxis=xa, yaxis=ya,
            marker=dict(symbol="circle", size=7, color="white",
                        line=dict(color="black", width=1)),
            hoverinfo="skip"))
    fig.add_trace(go.Scatter(
        x=fx, y=fy, mode="lines", xaxis=xa, yaxis=ya,
        line=dict(color="#f00000", width=3, shape="spline", smoothing=0.8),
        hoverinfo="skip"))

    xdom = [px_x(col_px[col][0]), px_x(col_px[col][1])]
    ydom = top_dom if row == "top" else bot_dom
    xkey = "xaxis" if n == 1 else f"xaxis{n}"
    ykey = "yaxis" if n == 1 else f"yaxis{n}"
    layout[xkey] = dict(axis_common, domain=xdom, range=xr, anchor=ya,
                        tickmode="linear", tick0=0, dtick=1,
                        showticklabels=(row == "bot"),
                        minor=dict(tickmode="linear", tick0=0, dtick=0.5,
                                   ticks="inside", ticklen=4,
                                   tickwidth=1.2, tickcolor="black"))
    layout[ykey] = dict(axis_common, domain=ydom, range=yr, anchor=xa,
                        tickmode="array", tickvals=ytv,
                        ticktext=[str(v) for v in ytv],
                        minor=dict(tickmode="linear", tick0=0, dtick=ymin,
                                   ticks="inside", ticklen=4,
                                   tickwidth=1.2, tickcolor="black"))

fig.update_layout(**layout)

ann = []
lab_left = [92, 483, 879]
temp_right = [337, 737, 1124]
xt_center = [214, 608, 983]
for c in range(3):
    ann.append(dict(text=f"<b>{PANEL_LABELS[c]}</b>", x=px_x(lab_left[c]), y=px_y(43),
                    xanchor="left", yanchor="middle", font=dict(size=22)))
    ann.append(dict(text=f"<b>{TOP_TEMPS[c]}</b>", x=px_x(temp_right[c]), y=px_y(43),
                    xanchor="right", yanchor="middle", font=dict(size=22)))
    ann.append(dict(text="<b><i>gT</i><sub>s</sub>=" + GTS[c] + " ps</b>",
                    x=px_x(lab_left[c] + 1), y=px_y(75),
                    xanchor="left", yanchor="middle", font=dict(size=18)))
    ann.append(dict(text=f"<b>{BOTTOM_TEMPS[c]}</b>", x=px_x(temp_right[c]), y=px_y(252),
                    xanchor="right", yanchor="middle", font=dict(size=22)))
    ann.append(dict(text=f"<b>{X_TITLE}</b>", x=px_x(xt_center[c]), y=px_y(477),
                    xanchor="center", yanchor="middle", font=dict(size=24)))
ytx = [21, 414, 799]
for c in range(3):
    ann.append(dict(text=f"<b>{Y_TITLE}</b>", x=px_x(ytx[c]), y=px_y(234),
                    xanchor="center", yanchor="middle", textangle=-90,
                    font=dict(size=22)))
for a in ann:
    a.update(xref="paper", yref="paper", showarrow=False)
    a["font"].update(family=FONT, color="black")
fig.update_layout(annotations=ann)

fig.write_html("out.html",
               config={"displayModeBar": False},
               post_script="document.body.style.margin='0px';document.body.style.padding='0px';")
